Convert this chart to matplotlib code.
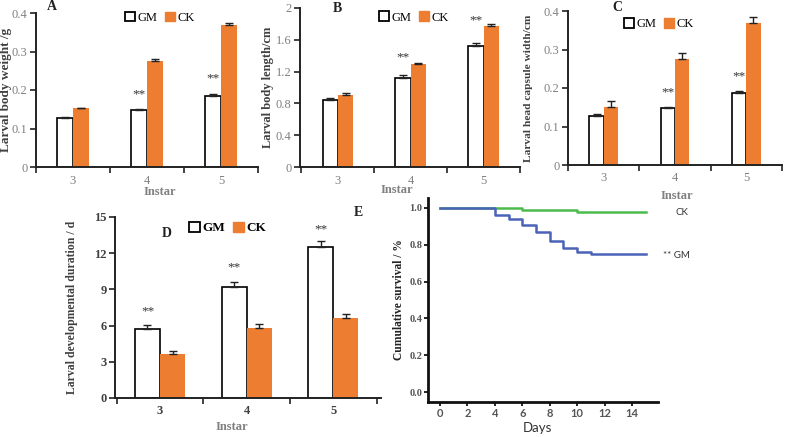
import matplotlib
matplotlib.use('Agg')
import matplotlib.pyplot as plt
import numpy as np
from matplotlib.patches import Patch

plt.rcParams['font.family'] = ['Liberation Serif', 'DejaVu Serif']

instar = ['3', '4', '5']
# A: larval body weight
wt_gm = [0.128, 0.147, 0.185]
wt_ck = [0.152, 0.276, 0.370]
wt_gm_err = [0.003, 0.003, 0.004]
wt_ck_err = [0.002, 0.004, 0.004]
wt_star = [None, 0.19, 0.23]
# B: larval body length
len_gm = [0.84, 1.12, 1.52]
len_ck = [0.91, 1.29, 1.77]
len_gm_err = [0.03, 0.04, 0.04]
len_ck_err = [0.02, 0.02, 0.03]
len_star = [None, 1.38, 1.84]
# C: head capsule width
hc_gm = [0.128, 0.147, 0.186]
hc_ck = [0.150, 0.276, 0.370]
hc_gm_err = [0.004, 0.003, 0.005]
hc_ck_err = [0.015, 0.015, 0.014]
hc_star = [None, 0.19, 0.23]
# D: developmental duration
dur_gm = [5.75, 9.2, 12.5]
dur_ck = [3.65, 5.8, 6.6]
dur_gm_err = [0.3, 0.45, 0.55]
dur_ck_err = [0.25, 0.3, 0.4]
dur_star = [7.2, 10.8, 14.0]
# E: survival
days_ck = [0, 6, 10, 15]
surv_ck = [1.0, 0.987, 0.976, 0.976]
days_gm = [0, 4, 5, 6, 7, 8, 9, 10, 11, 15]
surv_gm = [1.0, 0.964, 0.942, 0.905, 0.869, 0.822, 0.782, 0.76, 0.749, 0.749]

orange = '#ED7D31'
gray = '#808080'
dark = '#404040'

fig = plt.figure(figsize=(7.85, 4.37), dpi=100)


def bar_panel(rect, gm, ck, gm_err, ck_err, stars, width, xlim, ylim, yticks, yfmt,
              ylabel, title, title_xy, leg_xy, ylab_xy, xlab_xy, fs=9, lab_fs=9, leg_fs=9,
              bold_ticks=False, xpad=6):
    ax = fig.add_axes(rect)
    x = np.arange(len(instar))
    ax.bar(x - width / 2, gm, width, color='white', edgecolor='black', linewidth=1.2,
           yerr=[np.zeros(3), gm_err], capsize=3, error_kw=dict(elinewidth=1, capthick=1, ecolor='#222'))
    ax.bar(x + width / 2, ck, width, color=orange, edgecolor=orange, linewidth=0,
           yerr=[np.zeros(3), ck_err], capsize=3, error_kw=dict(elinewidth=1, capthick=1, ecolor='#222'))
    for i, s in enumerate(stars):
        if s is not None:
            ax.text(x[i] - width / 2, s, '**', ha='center', va='center', fontsize=fs + 0.5, color='#333')
    ax.set_xlim(*xlim)
    ax.set_ylim(*ylim)
    ax.set_yticks(yticks)
    ax.set_yticklabels([yfmt(v) for v in yticks])
    ax.set_xticks([-0.5, 0.5, 1.5, 2.5])
    ax.set_xticklabels([])
    ax.set_xticks(x, minor=True)
    ax.set_xticklabels(instar, minor=True)
    tc = dark if bold_ticks else gray
    ax.tick_params(axis='x', which='major', direction='out', length=4, width=1.2, color='#222')
    ax.tick_params(axis='x', which='minor', length=0, pad=xpad, labelsize=fs, labelcolor=tc)
    ax.tick_params(axis='y', direction='out', length=4, width=1.2, color='#222', labelsize=fs,
                   labelcolor=tc, pad=2)
    if bold_ticks:
        for t in ax.get_yticklabels() + ax.get_xticklabels(minor=True):
            t.set_fontweight('bold')
    for s in ['top', 'right']:
        ax.spines[s].set_visible(False)
    for s in ['left', 'bottom']:
        ax.spines[s].set_linewidth(1.4)
        ax.spines[s].set_color('#222')
    ax.set_ylabel(ylabel, fontsize=lab_fs, fontweight='bold', color=dark)
    ax.yaxis.set_label_coords(*ylab_xy)
    ax.set_xlabel('Instar', fontsize=9, fontweight='bold', color=gray)
    ax.xaxis.set_label_coords(*xlab_xy)
    ax.text(title_xy[0], title_xy[1], title, transform=ax.transAxes, fontsize=10,
            fontweight='bold', color='#222', ha='center', va='center')
    handles = [Patch(facecolor='white', edgecolor='black', linewidth=1.3),
               Patch(facecolor=orange, edgecolor=orange)]
    ax.legend(handles, ['GM', 'CK'], loc='center left', bbox_to_anchor=leg_xy, ncol=2,
              frameon=False, handlelength=0.8, handleheight=0.8,
              handletextpad=0.2, columnspacing=0.6, borderpad=0, borderaxespad=0,
              prop=dict(size=leg_fs, weight='bold' if bold_ticks else 'normal'))
    return ax


fmt1 = lambda v: '0' if v == 0 else ('%g' % v)

axA = bar_panel([36 / 785, 1 - 167 / 437, 222 / 785, 154 / 437], wt_gm, wt_ck, wt_gm_err, wt_ck_err,
                wt_star, 0.21, (-0.5, 2.42), (0, 0.4), [0, 0.1, 0.2, 0.3, 0.4], fmt1,
                'Larval body weight /g', 'A', (0.072, 1.045), (0.40, 0.97),
                (-0.108, 0.5), (0.56, -0.123), lab_fs=9.5)
axB = bar_panel([300 / 785, 1 - 167 / 437, 220 / 785, 159 / 437], len_gm, len_ck, len_gm_err, len_ck_err,
                len_star, 0.21, (-0.52, 2.49), (0, 2), [0, 0.4, 0.8, 1.2, 1.6, 2], fmt1,
                'Larval body length/cm', 'B', (0.17, 1.0), (0.36, 0.94),
                (-0.118, 0.5), (0.44, -0.107), lab_fs=9)
axC = bar_panel([568 / 785, 1 - 165 / 437, 214 / 785, 154 / 437], hc_gm, hc_ck, hc_gm_err, hc_ck_err,
                hc_star, 0.2, (-0.45, 2.4), (0, 0.4), [0, 0.1, 0.2, 0.3, 0.4], fmt1,
                'Larval head capsule width/cm', 'C', (0.23, 1.02), (0.26, 0.915),
                (-0.164, 0.5), (0.51, -0.162), lab_fs=8.2, xpad=5)
axD = bar_panel([115 / 785, 1 - 398 / 437, 266 / 785, 181 / 437], dur_gm, dur_ck, dur_gm_err, dur_ck_err,
                dur_star, 0.29, (-0.52, 2.55), (0, 15), [0, 3, 6, 9, 12, 15], lambda v: '%d' % v,
                'Larval developmental duration / d', 'D', (0.195, 0.91), (0.28, 0.94),
                (-0.139, 0.5), (0.44, -0.127), lab_fs=8.5, leg_fs=9.5, bold_ticks=True, xpad=5)

fig.text(358 / 785, 1 - 212 / 437, 'E', fontsize=10, fontweight='bold', color='#222', ha='center', va='center')

# E: survival curves
axE = fig.add_axes([428 / 785, 1 - 402 / 437, 230 / 785, 204 / 437])
axE.step(days_ck, surv_ck, where='post', color='#4CBB4C', linewidth=1.8)
axE.step(days_gm, surv_gm, where='post', color='#4A62B8', linewidth=1.8)
axE.set_xlim(-0.875, 15.9)
axE.set_ylim(-0.054, 1.054)
axE.set_xticks(range(0, 15, 2))
axE.set_yticks([0, 0.2, 0.4, 0.6, 0.8, 1.0])
axE.set_yticklabels(['%.1f' % v for v in [0, 0.2, 0.4, 0.6, 0.8, 1.0]])
for t in axE.get_xticklabels():
    t.set_family(['Lato', 'DejaVu Sans'])
    t.set_fontweight('bold')
for t in axE.get_yticklabels():
    t.set_fontweight('bold')
axE.tick_params(axis='x', direction='out', length=3, width=1.2, labelsize=8, labelcolor='#555', pad=1.5)
axE.tick_params(axis='y', direction='out', length=3, width=1.2, labelsize=7.5, labelcolor='#555', pad=1)
for s in ['top', 'right']:
    axE.spines[s].set_visible(False)
for s in ['left', 'bottom']:
    axE.spines[s].set_linewidth(2)
    axE.spines[s].set_color('#111')
axE.set_ylabel('Cumulative survival / %', fontsize=8.3, fontweight='bold', color='#222')
axE.yaxis.set_label_coords(-0.10, 0.5)
axE.set_xlabel('Days', fontsize=9.5, family=['Lato', 'DejaVu Sans'], color='#333')
axE.xaxis.set_label_coords(0.474, -0.098)
axE.text(17.15, 0.973, 'CK', fontsize=7, family=['Lato', 'DejaVu Sans'], color='#333', va='center')
axE.text(16.28, 0.739, '** GM', fontsize=7, family=['Lato', 'DejaVu Sans'], color='#333', va='center')

fig.savefig('out.png', dpi=100)
